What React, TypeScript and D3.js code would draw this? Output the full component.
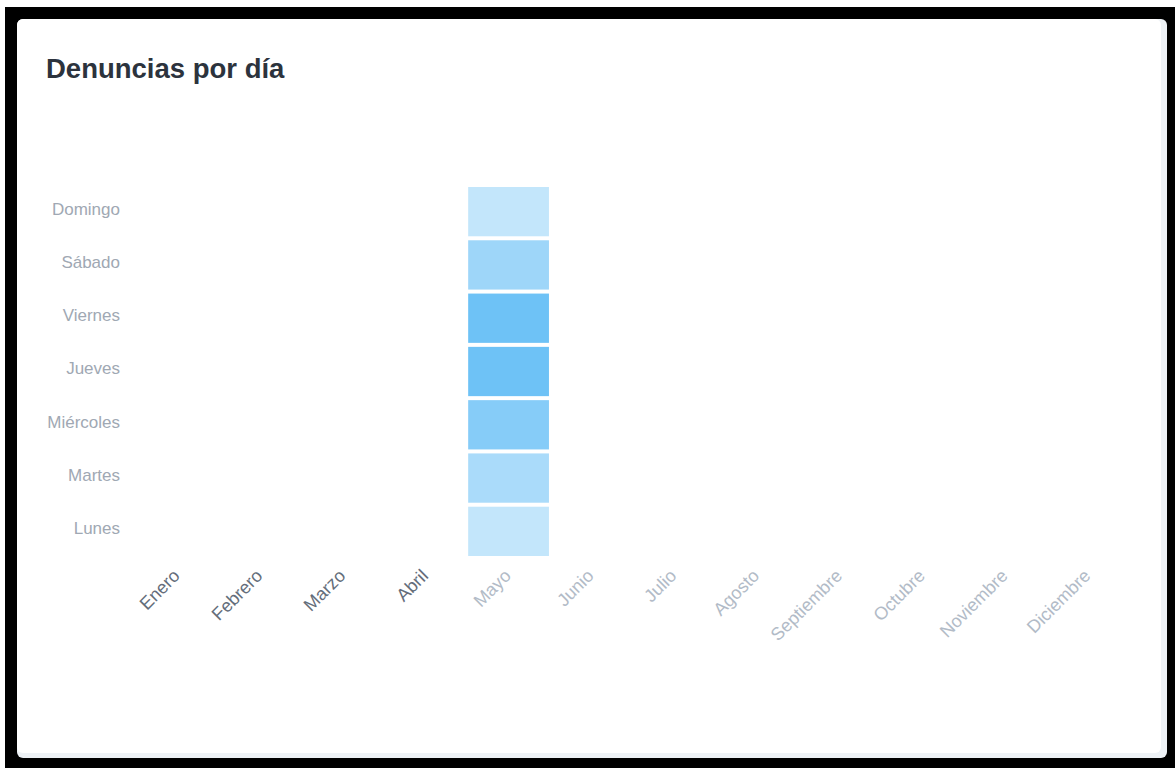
import React from "react";
import * as d3 from "d3";

const monthLabels = [
  "Enero", "Febrero", "Marzo", "Abril", "Mayo", "Junio",
  "Julio", "Agosto", "Septiembre", "Octubre", "Noviembre", "Diciembre",
];
const dayLabels = ["Domingo", "Sábado", "Viernes", "Jueves", "Miércoles", "Martes", "Lunes"];
// Denuncias en Mayo, por día (Domingo..Lunes)
const mayoCounts = [5, 8, 12, 12, 10, 7, 5];
const monthWithData = "Mayo";
const fadedFromIndex = 4;

const W = 1175;
const H = 768;
const FONT = "'Liberation Sans', Arial, Helvetica, sans-serif";

export default function App() {
  const x = d3.scaleBand<string>().domain(monthLabels).range([135.5, 1129]);
  const y = d3.scaleBand<string>().domain(dayLabels).range([185, 558]);
  const color = d3
    .scaleLinear<string>()
    .domain([0, d3.max(mayoCounts) as number])
    .range(["#ffffff", "#6ec2f6"]);

  const cells = monthLabels.flatMap((m) =>
    dayLabels.map((d, i) => ({
      month: m,
      day: d,
      value: m === monthWithData ? mayoCounts[i] : 0,
    }))
  );

  return (
    <div style={{ position: "fixed", left: 0, top: 0, width: W, height: H, background: "#fff" }}>
      <svg width={W} height={H} style={{ display: "block" }}>
        <rect x={5} y={7} width={W - 5} height={H - 7} fill="#000" />
        <rect x={17} y={19} width={1150} height={739} rx={6} fill="#eef2f6" />
        <rect x={17} y={19} width={1144} height={734} rx={6} fill="#ffffff" />
        <text
          x={46}
          y={78}
          fontFamily={FONT}
          fontWeight={700}
          fontSize={27.5}
          fill="#2c333d"
        >
          Denuncias por día
        </text>
        <g>
          {cells.map((c) => (
            <rect
              key={c.month + c.day}
              x={(x(c.month) as number) + 1.5}
              y={(y(c.day) as number) + 2}
              width={x.bandwidth() - 2}
              height={y.bandwidth() - 4}
              fill={color(c.value)}
            />
          ))}
        </g>
        <g fontFamily={FONT} fontSize={17} fill="#a0a8b3" textAnchor="end">
          {dayLabels.map((d) => (
            <text key={d} x={120} y={(y(d) as number) + y.bandwidth() / 2 - 3} dy="0.35em">
              {d}
            </text>
          ))}
        </g>
        <g fontFamily={FONT} fontSize={18} textAnchor="end">
          {monthLabels.map((m, i) => {
            const cx = (x(m) as number) + x.bandwidth() / 2 + 4;
            const cy = 577;
            return (
              <text
                key={m}
                x={cx}
                y={cy}
                transform={`rotate(-45, ${cx}, ${cy})`}
                fill={i < fadedFromIndex ? "#646d7a" : "#b2bbc7"}
              >
                {m}
              </text>
            );
          })}
        </g>
      </svg>
    </div>
  );
}
